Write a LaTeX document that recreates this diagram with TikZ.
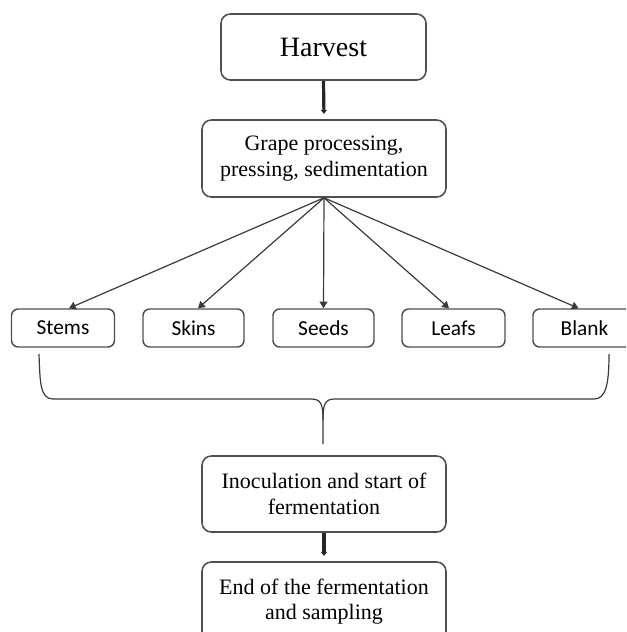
\documentclass[tikz,border=0pt]{standalone}
\usepackage{fontspec}
\setmainfont{Liberation Serif}
\newfontfamily\carlito{Carlito}
\usetikzlibrary{arrows.meta,calc}
\definecolor{boxgray}{HTML}{505050}
\definecolor{linegray}{HTML}{3A3A3A}
\begin{document}
\begin{tikzpicture}[x=0.75pt,y=-0.75pt,
 bigbox/.style={draw=boxgray, line width=1.2pt, rounded corners=7pt, fill=white, align=center, inner sep=0pt, font=\fontsize{16.5}{19}\selectfont},
 smallbox/.style={draw=boxgray, line width=1.1pt, rounded corners=5pt, fill=white, minimum height=28.5pt, inner sep=0pt, font=\carlito\fontsize{16}{19}\selectfont},
 fanarrow/.style={draw=linegray, line width=0.9pt, -{Triangle[length=5pt,width=6pt]}},
 thickarrow/.style={draw=black!85, line width=2.4pt, -{Triangle[length=3pt,width=4.5pt]}, shorten >=4pt},
 bracestyle/.style={draw=linegray, line width=0.9pt}]
\useasboundingbox (0,0) rectangle (626,632);
\begin{scope}
\clip (0,0) rectangle (626,632);
\node[bigbox, minimum width=153.75pt, minimum height=49.5pt, font=\fontsize{21}{24}\selectfont] (h) at (323.5,47) {Harvest};
\node[bigbox, minimum width=183pt, minimum height=57.75pt] (g) at (324,158.5) {Grape processing,\\ pressing, sedimentation};
\node[smallbox, minimum width=77.25pt] (stems) at (63,328) {Stems};
\node[smallbox, minimum width=75.75pt] (skins) at (193.5,328) {Skins};
\node[smallbox, minimum width=75.75pt] (seeds) at (323.5,328) {Seeds};
\node[smallbox, minimum width=77.25pt] (leafs) at (453.5,328) {Leafs};
\node[smallbox, minimum width=77.25pt] (blank) at (584.5,328) {Blank};
\node[bigbox, minimum width=183pt, minimum height=57pt] (inoc) at (324,494) {Inoculation and start of\\ fermentation};
\node[bigbox, minimum width=183pt, minimum height=59.25pt] (end) at (324,601.5) {End of the fermentation\\ and sampling};
\end{scope}
\draw[thickarrow] (h.south) -- (g.north);
\draw[thickarrow] (inoc.south) -- (end.north);
\draw[fanarrow] (g.south) -- ([xshift=4.5pt]stems.north);
\draw[fanarrow] (g.south) -- ([xshift=3.4pt]skins.north);
\draw[fanarrow] (g.south) -- (seeds.north);
\draw[fanarrow] (g.south) -- ([xshift=-3.4pt]leafs.north);
\draw[fanarrow] (g.south) -- ([xshift=-4.5pt]blank.north);
\draw[bracestyle] (39,354) .. controls (40,382) and (40,399) .. (53,399) -- (311,399)
  .. controls (321,399) and (323,404) .. (323,420) -- (323,444);
\draw[bracestyle] (323,420) .. controls (323,404) and (325,399) .. (335,399) -- (594,399)
  .. controls (606,399) and (609,384) .. (609,354);
\end{tikzpicture}
\end{document}
